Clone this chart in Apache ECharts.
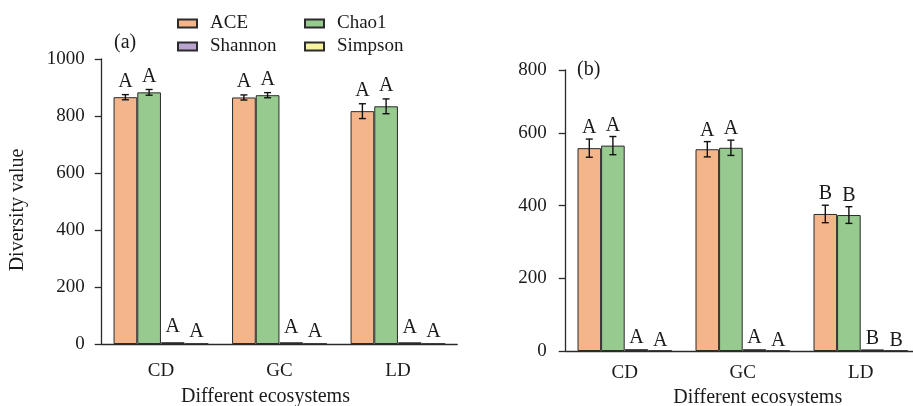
<!DOCTYPE html>
<html><head><meta charset="utf-8">
<script src="https://cdn.jsdelivr.net/npm/echarts@6/dist/echarts.min.js"></script>
<style>html,body{margin:0;padding:0;background:#fff}#c{width:913px;height:406px}</style>
</head><body><div id="c"></div>
<script>
// ---- data ----
const categories = ['CD', 'GC', 'LD'];
const seriesNames = ['ACE', 'Chao1', 'Shannon', 'Simpson'];

// panel (a)
const aceA = [866, 865, 817];
const aceErrA = [9, 9, 26];
const chao1A = [883, 873, 834];
const chao1ErrA = [10, 9, 26];
const shannonA = [6.2, 6.1, 6.0];
const simpsonA = [0.99, 0.99, 0.99];
const aceLetA = ['A', 'A', 'A'];
const chao1LetA = ['A', 'A', 'A'];
const shannonLetA = ['A', 'A', 'A'];
const simpsonLetA = ['A', 'A', 'A'];
const yTicksA = ['0', '200', '400', '600', '800', '1000'];

// panel (b)
const aceB = [558, 555, 377];
const aceErrB = [25, 21, 24];
const chao1B = [565, 559, 374];
const chao1ErrB = [25, 21, 23];
const shannonB = [5.0, 4.9, 4.3];
const simpsonB = [0.97, 0.97, 0.96];
const aceLetB = ['A', 'A', 'B'];
const chao1LetB = ['A', 'A', 'B'];
const shannonLetB = ['A', 'A', 'B'];
const simpsonLetB = ['A', 'A', 'B'];
const yTicksB = ['0', '200', '400', '600', '800'];
const yMaxB = 773; // top of the drawn axis in panel (b)

// ---- style ----
const FONT = '"Liberation Serif", "Times New Roman", serif';
const colors = ['#F5B58B', '#97CA8F', '#B9A3CF', '#F7F3A0'];
const AX = '#2b2b2b';
const TXT = '#1a1a1a';
const FS = 19;
const FL = 20;

const chart = echarts.init(document.getElementById('c'));

function barSeries(name, idx, gi, vals) {
  return {
    type: 'bar', name: name, xAxisIndex: gi, yAxisIndex: gi,
    data: vals, barGap: '0%', barCategoryGap: '20%',
    itemStyle: { color: colors[idx], borderColor: AX, borderWidth: 1 },
    z: 2
  };
}

function errSeries(k, gi, vals, errs, lets, lift) {
  const data = vals.map((v, i) => [i, v, errs ? errs[i] : 0, lets[i]]);
  return {
    type: 'custom', xAxisIndex: gi, yAxisIndex: gi, z: 5, silent: true,
    encode: { x: 0, y: 1 },
    data: data,
    renderItem: function (params, api) {
      const ci = api.value(0);
      const v = api.value(1);
      const e = api.value(2);
      const letter = data[params.dataIndex][3];
      const W = api.size([1, 0])[0];
      const bw = W * 0.8 / 4;
      const xc = api.coord([ci, 0])[0] - W * 0.4 + bw * (k + 0.5);
      const yTop = api.coord([ci, v + e])[1];
      const yBot = api.coord([ci, v - e])[1];
      const ls = { stroke: '#111', lineWidth: 1.4 };
      const children = [];
      if (e > 0) {
        children.push({ type: 'line', shape: { x1: xc, y1: yTop, x2: xc, y2: yBot }, style: ls });
        children.push({ type: 'line', shape: { x1: xc - 3.5, y1: yTop, x2: xc + 3.5, y2: yTop }, style: ls });
        children.push({ type: 'line', shape: { x1: xc - 3.5, y1: yBot, x2: xc + 3.5, y2: yBot }, style: ls });
      }
      children.push({
        type: 'text',
        style: { text: letter, x: xc, y: yTop - lift, align: 'center', verticalAlign: 'bottom',
                 font: FL + 'px ' + FONT, fill: TXT }
      });
      return { type: 'group', children: children };
    }
  };
}

function xAxis(gi, padding, labelMargin, gap) {
  return {
    type: 'category', gridIndex: gi, data: categories,
    axisLine: { lineStyle: { color: AX, width: 1.3 } },
    axisTick: { length: 5, lineStyle: { color: AX, width: 1.3 } },
    axisLabel: { fontFamily: FONT, fontSize: FS, color: TXT, margin: labelMargin },
    name: 'Different ecosystems', nameLocation: 'middle', nameGap: gap,
    nameTextStyle: { fontFamily: FONT, fontSize: FL, color: TXT, padding: padding }
  };
}

const legendBase = {
  orient: 'vertical', top: 14, padding: 0, itemGap: 4, itemWidth: 19, itemHeight: 8, icon: 'rect',
  textStyle: { fontFamily: FONT, fontSize: FS, color: TXT, padding: [0, 0, 0, 8] }
};

const option = {
  animation: false,
  backgroundColor: '#fff',
  textStyle: { fontFamily: FONT },
  grid: [
    { left: 101.7, top: 59, width: 355.5, height: 285, outerBoundsMode: 'none', containLabel: false },
    { left: 565.7, top: 70, width: 354, height: 281, outerBoundsMode: 'none', containLabel: false }
  ],
  legend: [
    Object.assign({}, legendBase, { data: ['ACE', 'Shannon'], left: 177 }),
    Object.assign({}, legendBase, { data: ['Chao1', 'Simpson'], left: 304 })
  ],
  xAxis: [xAxis(0, [0, 28, 0, 0], 18, 43), xAxis(1, [0, 0, 0, 30], 13, 36)],
  yAxis: [
    { type: 'value', gridIndex: 0, min: 0, max: 1000, interval: 200,
      splitLine: { show: false },
      axisLine: { show: true, lineStyle: { color: AX, width: 1.3 } },
      axisTick: { show: true, length: 7, lineStyle: { color: AX, width: 1.3 } },
      axisLabel: { fontFamily: FONT, fontSize: FS, color: TXT, margin: 17,
                   formatter: (v, i) => yTicksA[i] },
      name: 'Diversity value', nameLocation: 'middle', nameGap: 74,
      nameTextStyle: { fontFamily: FONT, fontSize: FL, color: TXT, padding: [0, 17, 0, 0] } },
    { type: 'value', gridIndex: 1, min: 0, max: yMaxB, interval: 200,
      splitLine: { show: false },
      axisLine: { show: true, lineStyle: { color: AX, width: 1.3 } },
      axisTick: { show: true, length: 7, lineStyle: { color: AX, width: 1.3 } },
      axisLabel: { fontFamily: FONT, fontSize: FS, color: TXT, margin: 19, showMaxLabel: true,
                   formatter: (v, i) => yTicksB[i] } }
  ],
  graphic: [
    { type: 'text', left: 114, top: 33, style: { text: '(a)', font: FL + 'px ' + FONT, fill: TXT } },
    { type: 'text', left: 577, top: 60, style: { text: '(b)', font: FL + 'px ' + FONT, fill: TXT } }
  ],
  series: [
    barSeries('ACE', 0, 0, aceA), barSeries('Chao1', 1, 0, chao1A),
    barSeries('Shannon', 2, 0, shannonA), barSeries('Simpson', 3, 0, simpsonA),
    barSeries('ACE', 0, 1, aceB), barSeries('Chao1', 1, 1, chao1B),
    barSeries('Shannon', 2, 1, shannonB), barSeries('Simpson', 3, 1, simpsonB),
    errSeries(0, 0, aceA, aceErrA, aceLetA, 3), errSeries(1, 0, chao1A, chao1ErrA, chao1LetA, 3),
    errSeries(2, 0, shannonA, null, shannonLetA, 5), errSeries(3, 0, simpsonA, null, simpsonLetA, 2),
    errSeries(0, 1, aceB, aceErrB, aceLetB, 1), errSeries(1, 1, chao1B, chao1ErrB, chao1LetB, 1),
    errSeries(2, 1, shannonB, null, shannonLetB, 1), errSeries(3, 1, simpsonB, null, simpsonLetB, 0)
  ]
};
chart.setOption(option);
</script>
</body></html>
